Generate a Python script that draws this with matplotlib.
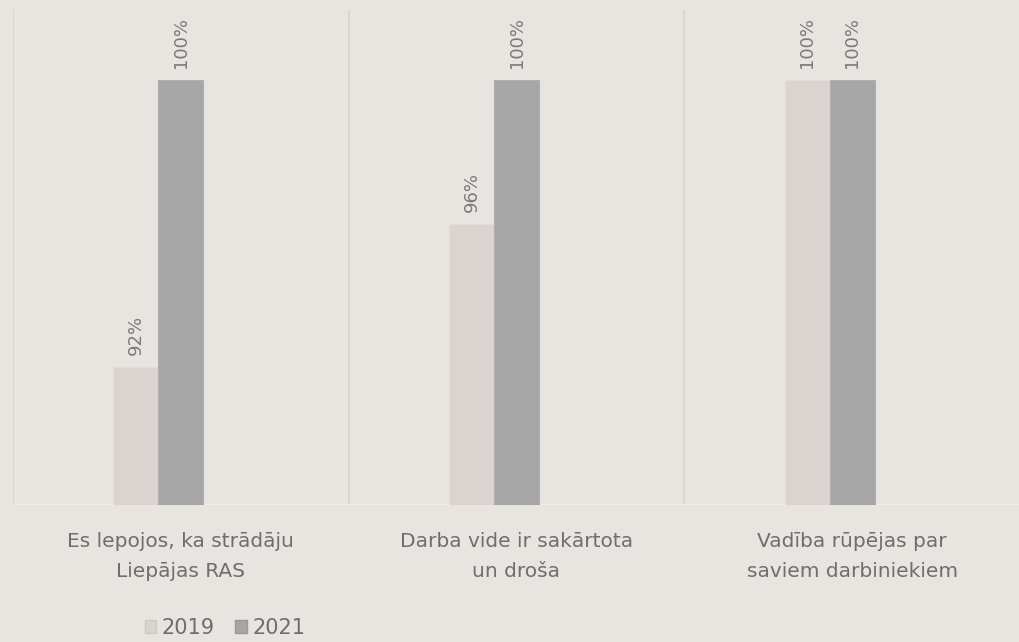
import matplotlib
matplotlib.use("Agg")
import matplotlib.pyplot as plt
from matplotlib.patches import Patch
import numpy as np

categories = ["Es lepojos, ka strādāju\nLiepājas RAS",
              "Darba vide ir sakārtota\nun droša",
              "Vadība rūpējas par\nsaviem darbiniekiem"]
series_names = ["2019", "2021"]
values_2019 = [92, 96, 100]
values_2021 = [100, 100, 100]

BG = "#e8e5e1"
C2019 = "#dad3d0"
C2021 = "#a6a6a6"
TXT = "#6e6e6e"

W, H = 1020, 642
fig = plt.figure(figsize=(W / 100, H / 100), dpi=100, facecolor=BG)
ax = fig.add_axes([13 / W, 1 - 505 / H, (1020 - 13) / W, (505 - 10) / H])
ax.set_facecolor(BG)

x = np.arange(len(categories))
bw = 0.134
b1 = ax.bar(x - bw, values_2019, width=bw, color=C2019, edgecolor="#e2ddda", linewidth=0.8, zorder=2)
b2 = ax.bar(x, values_2021, width=bw, color=C2021, edgecolor="#b0b0b0", linewidth=0.8, zorder=2)

ymin, ymax = 88.16, 101.95
ax.set_ylim(ymin, ymax)
ax.set_xlim(-0.5, 2.5)

for bars, vals in ((b1, values_2019), (b2, values_2021)):
    for rect, v in zip(bars, vals):
        ax.annotate(f"{v}%", (rect.get_x() + rect.get_width() / 2, v),
                    xytext=(0, 8.5), textcoords="offset points", rotation=90,
                    ha="center", va="bottom", fontsize=13, color="#7a7a7a",
                    family="DejaVu Sans")

for sep in (-0.5, 0.5, 1.5):
    ax.axvline(sep, color="#d6d3ce", linewidth=1.2, zorder=1)
ax.axhline(ymin, color="#f0eeea", linewidth=1.5, zorder=1)

for s in ax.spines.values():
    s.set_visible(False)
ax.set_yticks([])
ax.set_xticks([])

for xi, lab in zip(x, categories):
    ax.text(xi, -0.055, lab, transform=ax.get_xaxis_transform(), ha="center", va="top",
            fontsize=14.5, color=TXT, family="DejaVu Sans", linespacing=1.75)

handles = [Patch(facecolor=C2019, edgecolor="#cfc9c6"), Patch(facecolor=C2021, edgecolor="#999999")]
leg = fig.legend(handles, series_names, loc="center", bbox_to_anchor=(225 / W, 1 - 628 / H),
                 ncol=2, frameon=False, fontsize=15, handlelength=0.55, handleheight=0.55,
                 handletextpad=0.25, columnspacing=1.0, labelcolor=TXT)

fig.savefig("out.png", dpi=100, facecolor=BG)
